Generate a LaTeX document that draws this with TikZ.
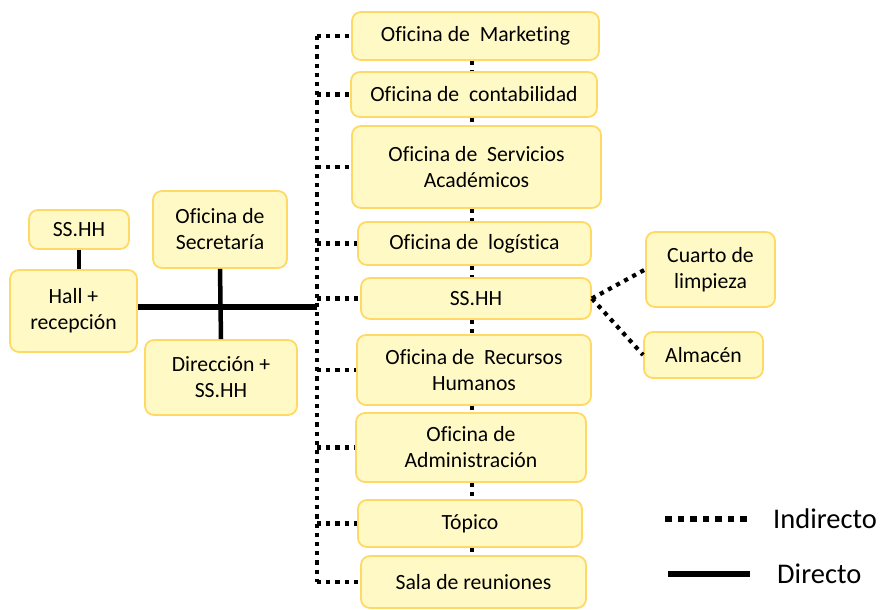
\documentclass[tikz,border=0pt]{standalone}
\usepackage{fontspec}
\setmainfont{Carlito}[Ligatures={NoCommon}]
\definecolor{boxfill}{HTML}{FFF9C6}
\definecolor{boxline}{HTML}{FFD966}
\tikzset{
  box/.style={draw=boxline, fill=boxfill, line width=1.8pt, rounded corners=9pt,
    align=center, inner sep=0pt, font=\fontsize{21.7}{26}\selectfont},
  ind/.style={line width=4.2pt, dash pattern=on 4.2pt off 5pt, black},
  dir/.style={line width=5.5pt, black},
  legtext/.style={anchor=west, font=\fontsize{28.5}{32}\selectfont, inner sep=0pt}
}
\begin{document}
\begin{tikzpicture}[x=1pt,y=-1pt]
\useasboundingbox (0,0) rectangle (883,610);
% right column
\node[box, minimum width=247pt, minimum height=48pt] (mkt) at (475.5,36) {Oficina de\ \ Marketing};
\node[box, minimum width=246pt, minimum height=45pt] (cont) at (474,94.5) {Oficina de\ \ contabilidad};
\node[box, minimum width=249pt, minimum height=82pt] (serv) at (476.5,167) {Oficina de\ \ Servicios\\Académicos};
\node[box, minimum width=233pt, minimum height=43pt] (log) at (474.5,243.5) {Oficina de\ \ logística};
\node[box, minimum width=230pt, minimum height=41pt] (ssc) at (476,298.5) {SS.HH};
\node[box, minimum width=234pt, minimum height=70pt] (rh) at (474,370) {Oficina de\ \ Recursos\\Humanos};
\node[box, minimum width=230pt, minimum height=69pt] (adm) at (471,447.5) {Oficina de\\Administración};
\node[box, minimum width=224pt, minimum height=47pt] (top) at (470,523.5) {Tópico};
\node[box, minimum width=225pt, minimum height=52pt] (sala) at (473.5,582) {Sala de reuniones};
% far right
\node[box, minimum width=129pt, minimum height=75pt] (cuarto) at (710.5,269.5) {Cuarto de\\limpieza};
\node[box, minimum width=119pt, minimum height=46pt] (alm) at (703.5,355) {Almacén};
% left part
\node[box, minimum width=100pt, minimum height=39pt] (ssl) at (79,229.5) {SS.HH};
\node[box, minimum width=127pt, minimum height=82pt] (hall) at (73.5,311) {Hall +\\recepción};
\node[box, minimum width=134pt, minimum height=77pt] (sec) at (220,229.5) {Oficina de\\Secretaría};
\node[box, minimum width=152pt, minimum height=75pt] (dir) at (221,377.5) {Dirección +\\SS.HH};
% coordinates
\coordinate (tx) at (317,0);
\coordinate (cx) at (472,0);
\coordinate (jn) at (220,307);
% direct connections
\draw[dir, line width=4.5pt] (ssl.south -| 79,0) -- (hall.north -| 79,0);
\draw[dir, line width=6pt] (hall.east |- jn) -- (jn -| tx);
\draw[dir, line width=4.5pt] (sec.south) -- (dir.north);
% indirect trunk
\draw[ind] (mkt.west -| tx) -- (sala.west -| tx);
\foreach \n in {mkt,cont,serv,log,ssc,rh,adm,top,sala}{
  \draw[ind] (\n.west -| tx) -- (\n.west);
}
% vertical short links
\foreach \a/\b in {mkt/cont,cont/serv,serv/log,log/ssc,ssc/rh,rh/adm,adm/top,top/sala}{
  \draw[ind] (\a.south -| cx) -- (\b.north -| cx);
}
% right links
\draw[ind] (ssc.east) -- (cuarto.west);
\draw[ind] (ssc.east) -- (alm.west);
% legend
\coordinate (l1a) at (665,519);
\coordinate (l1b) at (749,519);
\coordinate (l2a) at (668,574);
\coordinate (l2b) at (750,574);
\draw[ind, line width=6.3pt, dash pattern=on 6.5pt off 6pt] (l1a) -- (l1b);
\draw[dir, line width=6.5pt] (l2a) -- (l2b);
\node[legtext] (lind) at (773,519) {Indirecto};
\node[legtext] (ldir) at (777,574) {Directo};
\end{tikzpicture}
\end{document}
